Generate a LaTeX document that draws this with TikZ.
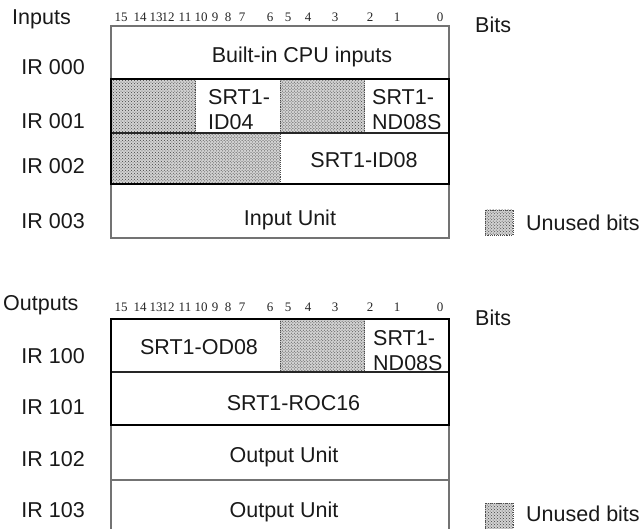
\documentclass[tikz,border=0pt]{standalone}
\usepackage{fontspec}
\setmainfont{Liberation Sans}
\newfontfamily\bitfont{Liberation Serif}
\usetikzlibrary{patterns}
\newcommand\ucell[4]{%
  \fill[unused] (#1,#2) rectangle (#3,#4);
  \fill[unusedpat] (#1,#2) rectangle (#3,#4);
  \draw[unusededge] (#1,#2) rectangle (#3,#4);}
\begin{document}
\begin{tikzpicture}[x=1bp,y=-1bp,
  lbl/.style={font=\fontsize{21.5bp}{25bp}\selectfont, inner sep=0pt, anchor=base, text=black!90},
  lblw/.style={lbl, anchor=base west},
  lble/.style={lbl, anchor=base east},
  bitnum/.style={font=\bitfont\fontsize{13bp}{13bp}\selectfont, inner sep=0pt, anchor=base, text=black!85},
  thinbox/.style={draw=black!55, line width=1.3bp},
  thickbox/.style={draw=black, line width=2.6bp},
  midline/.style={draw=black!85, line width=1.4bp},
  unused/.style={fill=gray!35},
  unusedpat/.style={pattern=crosshatch dots, pattern color=black!75},
  unusededge/.style={draw=black!70, densely dotted, line width=0.9bp}
]
\useasboundingbox (0,0) rectangle (643,529);

% ---------- Inputs block ----------
\draw[thinbox] (111,26) rectangle (449,238);
\ucell{111}{79}{195.5}{133}
\ucell{280}{79}{364.5}{133}
\ucell{111}{133}{280}{184}
\draw[midline] (111,133) -- (449,133);
\draw[thickbox] (111,79) rectangle (449,184);

% ---------- Outputs block ----------
\draw[thinbox] (111,319) rectangle (449,540);
\draw[thinbox] (111,480) -- (449,480);
\ucell{280}{319}{364.5}{372}
\draw[midline] (111,372) -- (449,372);
\draw[thickbox] (111,319) rectangle (449,425);

% ---------- legend squares ----------
\ucell{485}{210}{513}{235}
\ucell{485}{503}{513}{531}

% ---------- bit numbers ----------
\foreach \px/\b in {121/15,140/14,156/13,168/12,185/11,201/10,215/9,228/8,242/7,270/6,288/5,308/4,335/3,370/2,397/1,440/0}{
  \node[bitnum] (bt\b) at (\px,22) {\b};
  \node[bitnum] (bb\b) at (\px,311) {\b};
}

% ---------- Inputs labels ----------
\node[lblw] (inputs) at (12,25) {Inputs};
\node[lble] (ir000) at (85,75) {IR 000};
\node[lble] (ir001) at (85,129) {IR 001};
\node[lble] (ir002) at (85,174) {IR 002};
\node[lble] (ir003) at (85,229) {IR 003};
\node[lbl] (cpu) at (302,63) {Built-in CPU inputs};
\node[lblw] (idfa) at (208,105) {SRT1-};
\node[lblw] (idfb) at (208,130) {ID04};
\node[lblw] (ndia) at (372,105) {SRT1-};
\node[lblw] (ndib) at (372,130) {ND08S};
\node[lbl] (ideight) at (364,168) {SRT1-ID08};
\node[lbl] (inunit) at (290,226) {Input Unit};
\node[lblw] (bitsi) at (475,33) {Bits};
\node[lblw] (unusedi) at (526,231) {Unused bits};

% ---------- Outputs labels ----------
\node[lblw] (outputs) at (3,310) {Outputs};
\node[lble] (ir100) at (85,363) {IR 100};
\node[lble] (ir101) at (85,414) {IR 101};
\node[lble] (ir102) at (85,466) {IR 102};
\node[lble] (ir103) at (85,517) {IR 103};
\node[lbl] (odeight) at (199,354) {SRT1-OD08};
\node[lblw] (ndoa) at (373,345) {SRT1-};
\node[lblw] (ndob) at (373,370) {ND08S};
\node[lbl] (roc) at (293.5,410) {SRT1-ROC16};
\node[lbl] (outa) at (284,462) {Output Unit};
\node[lbl] (outb) at (284,517) {Output Unit};
\node[lblw] (bitso) at (475,325) {Bits};
\node[lblw] (unusedo) at (526,521) {Unused bits};
\end{tikzpicture}
\end{document}
